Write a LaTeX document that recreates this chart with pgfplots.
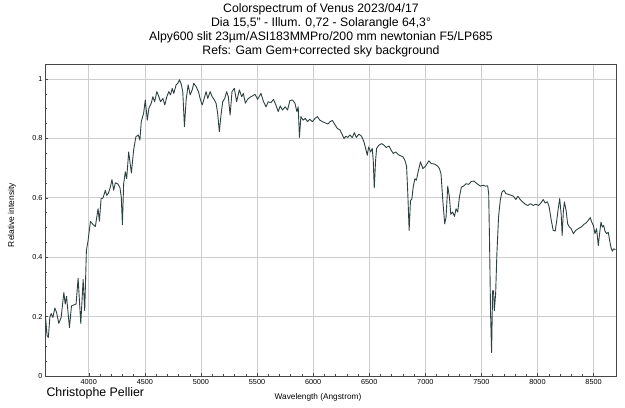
\documentclass[border=0pt]{standalone}
\usepackage{pgfplots}
\pgfplotsset{compat=1.18}
\usepackage{fontspec}
\setmainfont{Liberation Sans}
\definecolor{specline}{RGB}{47,64,64}
\definecolor{gridc}{RGB}{205,205,205}
\definecolor{axc}{RGB}{70,70,70}
\begin{document}
\begin{tikzpicture}[x=1bp,y=1bp]
\path[use as bounding box] (0,0) rectangle (625,407);
\begin{axis}[at={(45bp,31bp)}, anchor=south west, scale only axis,
  width=571bp, height=312bp,
  xmin=3610, xmax=8700, ymin=0, ymax=1.05,
  xtick={4000,4500,5000,5500,6000,6500,7000,7500,8000,8500},
  ytick={0,0.2,0.4,0.6,0.8,1},
  minor x tick num=4, minor y tick num=3,
  grid=major, major grid style={gridc, line width=0.6pt},
  axis line style={axc, line width=0.8pt},
  tick style={axc, line width=0.4pt}, major tick length=3bp, minor tick length=2bp,
  tick align=inside, xtick pos=bottom, ytick pos=left,
  tick label style={font=\fontsize{7.3}{8}\selectfont, /pgf/number format/assume math mode=true},
  scaled x ticks=false,
  xticklabel style={/pgf/number format/1000 sep={}, yshift=0bp},
  yticklabel style={/pgf/number format/fixed, xshift=1bp},
]
\addplot[specline, line width=0.9pt, line join=round] coordinates {
(3612,0.20) (3615,0.197) (3629,0.135) (3640,0.13) (3653,0.197) (3665,0.21) (3680,0.197)
(3698,0.229) (3713,0.214) (3733,0.177) (3754,0.197) (3778,0.281) (3790,0.242) (3802,0.268)
(3828,0.163) (3846,0.236) (3873,0.24) (3887,0.242) (3905,0.329) (3929,0.177) (3950,0.325)
(3964,0.22) (3979,0.422) (3994,0.456) (4015,0.520) (4038,0.510) (4059,0.503) (4083,0.563)
(4095,0.521) (4110,0.597) (4127,0.599) (4148,0.625) (4160,0.608) (4175,0.615) (4193,0.636)
(4207,0.661) (4222,0.625) (4237,0.650) (4258,0.647) (4278,0.634) (4290,0.602) (4300,0.509)
(4311,0.647) (4326,0.687) (4338,0.664) (4356,0.754) (4380,0.683) (4400,0.760) (4420,0.805)
(4442,0.811) (4456,0.794) (4468,0.856) (4489,0.884) (4504,0.929) (4522,0.861) (4536,0.901)
(4557,0.918) (4572,0.940) (4587,0.923) (4607,0.957) (4625,0.940) (4640,0.923) (4661,0.934)
(4678,0.912) (4696,0.940) (4714,0.957) (4729,0.946) (4744,0.968) (4758,0.951) (4779,0.980)
(4794,0.985) (4809,0.997) (4824,0.983) (4838,0.957) (4853,0.839) (4868,0.929) (4886,0.980)
(4904,0.946) (4922,0.963) (4936,0.985) (4957,0.974) (4978,0.957) (4996,0.929) (5011,0.912)
(5025,0.929) (5046,0.957) (5061,0.934) (5082,0.957) (5100,0.940) (5120,0.929) (5135,0.918)
(5149,0.884) (5164,0.822) (5179,0.878) (5194,0.923) (5212,0.934) (5229,0.957) (5244,0.940)
(5260,0.878) (5277,0.957) (5298,0.968) (5318,0.923) (5342,0.963) (5363,0.940) (5378,0.951)
(5396,0.918) (5416,0.931) (5437,0.938) (5461,0.943) (5482,0.948) (5505,0.931) (5535,0.951)
(5558,0.923) (5580,0.906) (5600,0.923) (5624,0.920) (5647,0.931) (5668,0.912) (5689,0.890)
(5707,0.909) (5727,0.895) (5751,0.906) (5772,0.895) (5793,0.927) (5816,0.929) (5838,0.918)
(5855,0.890) (5867,0.906) (5878,0.803) (5891,0.873) (5911,0.861) (5929,0.867) (5950,0.856)
(5970,0.864) (5994,0.856) (6018,0.867) (6038,0.873) (6060,0.861) (6083,0.856) (6107,0.852)
(6133,0.848) (6151,0.856) (6172,0.860) (6196,0.845) (6216,0.833) (6240,0.828) (6261,0.811)
(6276,0.799) (6291,0.807) (6309,0.803) (6329,0.811) (6349,0.802) (6367,0.819) (6385,0.803)
(6408,0.814) (6432,0.807) (6453,0.788) (6468,0.766) (6483,0.743) (6495,0.771) (6513,0.754)
(6527,0.766) (6536,0.726) (6545,0.633) (6557,0.726) (6566,0.766) (6587,0.777) (6611,0.782)
(6631,0.777) (6652,0.769) (6676,0.774) (6696,0.760) (6714,0.749) (6736,0.754) (6759,0.745)
(6780,0.741) (6800,0.738) (6818,0.726) (6833,0.706) (6844,0.614) (6856,0.490) (6868,0.591)
(6880,0.595) (6892,0.636) (6907,0.664) (6921,0.659) (6936,0.687) (6957,0.721) (6978,0.698)
(7002,0.706) (7031,0.724) (7054,0.715) (7084,0.713) (7111,0.706) (7126,0.698) (7140,0.681)
(7156,0.591) (7173,0.512) (7185,0.535) (7200,0.639) (7215,0.602) (7227,0.544) (7244,0.552)
(7260,0.537) (7274,0.563) (7289,0.552) (7304,0.602) (7322,0.636) (7342,0.639) (7363,0.647)
(7387,0.645) (7411,0.655) (7434,0.656) (7461,0.647) (7491,0.639) (7514,0.642) (7535,0.639)
(7556,0.640) (7565,0.614) (7573,0.445) (7582,0.208) (7591,0.079) (7600,0.287) (7609,0.287)
(7615,0.220) (7627,0.276) (7638,0.411) (7653,0.535) (7668,0.591) (7683,0.619) (7701,0.625)
(7718,0.614) (7742,0.611) (7766,0.608) (7786,0.605) (7807,0.594) (7825,0.605) (7846,0.594)
(7867,0.586) (7891,0.578) (7914,0.574) (7938,0.580) (7962,0.574) (7985,0.578) (8009,0.574)
(8030,0.582) (8051,0.594) (8069,0.582) (8089,0.586) (8104,0.569) (8122,0.526) (8140,0.490)
(8158,0.488) (8172,0.524) (8187,0.569) (8198,0.597) (8211,0.546) (8220,0.473) (8231,0.557)
(8240,0.586) (8255,0.557) (8269,0.512) (8282,0.503) (8300,0.496) (8320,0.479) (8341,0.490)
(8364,0.496) (8388,0.501) (8412,0.510) (8433,0.515) (8453,0.524) (8471,0.533) (8483,0.518)
(8498,0.507) (8513,0.479) (8527,0.496) (8542,0.439) (8557,0.490) (8566,0.518) (8578,0.501)
(8590,0.507) (8601,0.488) (8616,0.479) (8631,0.484) (8643,0.456) (8655,0.433) (8667,0.420)
(8679,0.428) (8695,0.425)
};
\end{axis}
\node[font=\fontsize{12.3}{14}\selectfont] at (321,398) {Colorspectrum of Venus 2023/04/17};
\node[font=\fontsize{12.3}{14}\selectfont] at (321,384) {Dia 15,5" - Illum. 0,72 - Solarangle 64,3°};
\node[font=\fontsize{12.3}{14}\selectfont] at (321,370) {Alpy600 slit 23µm/ASI183MMPro/200 mm newtonian F5/LP685};
\node[font=\fontsize{12.3}{14}\selectfont] at (321,356) {Refs: Gam Gem+corrected sky background};
\node[font=\fontsize{8.5}{9}\selectfont, rotate=90] at (12,192) {Relative intensity};
\node[font=\fontsize{8.3}{9}\selectfont] at (318,10) {Wavelength (Angstrom)};
\node[font=\fontsize{12.4}{14}\selectfont, anchor=west] at (43,14) {Christophe Pellier};
\end{tikzpicture}
\end{document}
